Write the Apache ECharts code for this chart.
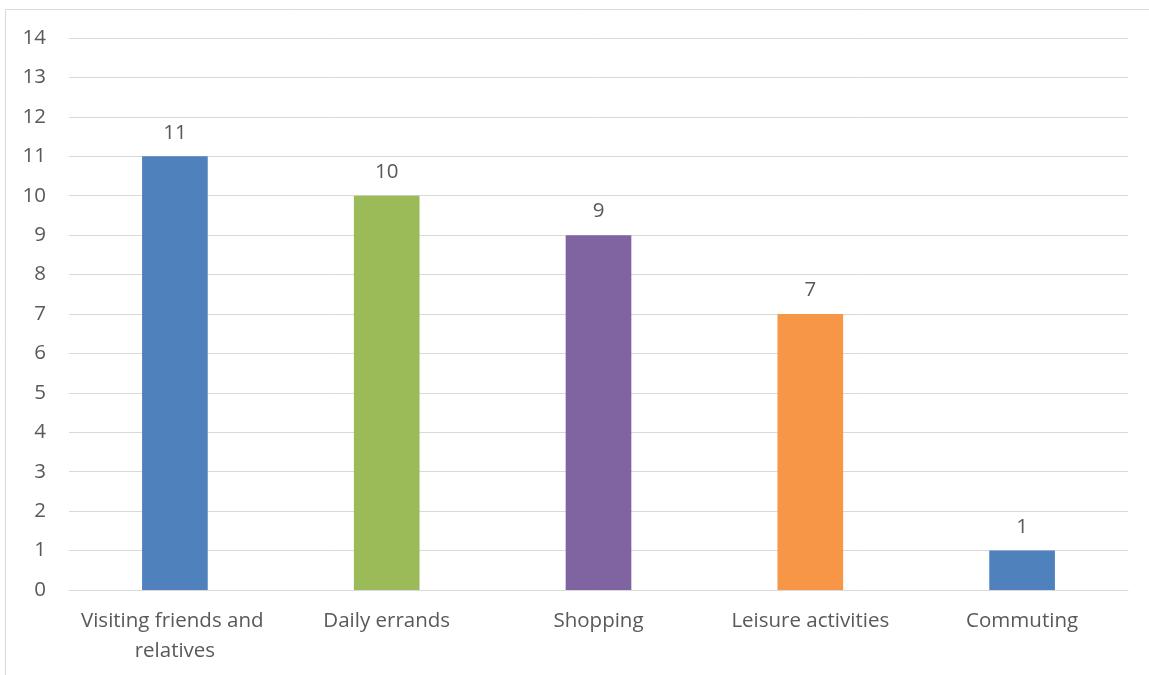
<!DOCTYPE html>
<html>
<head>
<meta charset="utf-8">
<script src="https://cdn.jsdelivr.net/npm/echarts@6/dist/echarts.min.js"></script>
<style>
  html, body { margin: 0; padding: 0; background: #fff; }
  #chart { width: 1149px; height: 675px; }
</style>
</head>
<body>
<div id="chart"></div>
<script>
// Trip purposes and their counts
const categories = ['Visiting friends and relatives', 'Daily errands', 'Shopping', 'Leisure activities', 'Commuting'];
const values = [11, 10, 9, 7, 1];
const barColors = ['#4F81BD', '#9BBB59', '#8064A2', '#F79646', '#4F81BD'];

const textColor = '#595959';
const fontFamily = '"Open Sans", Lato, sans-serif';

const chart = echarts.init(document.getElementById('chart'), null, { renderer: 'canvas' });
chart.setOption({
  animation: false,
  backgroundColor: '#ffffff',
  graphic: [{
    type: 'rect',
    shape: { x: 5.5, y: 9.5, width: 1200, height: 720 },
    style: { fill: 'none', stroke: '#d9d9d9', lineWidth: 1 },
    silent: true
  }],
  grid: { left: 69, right: 21, top: 38, bottom: 85, containLabel: false },
  xAxis: {
    type: 'category',
    data: categories,
    axisLine: { show: true, lineStyle: { color: '#d9d9d9', width: 1 } },
    axisTick: { show: false },
    axisLabel: {
      color: textColor, fontSize: 20.5, fontFamily: fontFamily,
      margin: 16, lineHeight: 30, width: 205, overflow: 'break', interval: 0
    }
  },
  yAxis: {
    type: 'value',
    min: 0, max: 14, interval: 1,
    axisLine: { show: false },
    axisTick: { show: false },
    splitLine: { lineStyle: { color: '#d9d9d9', width: 1 } },
    axisLabel: { color: textColor, fontSize: 20.5, fontFamily: fontFamily, margin: 23 }
  },
  series: [{
    type: 'bar',
    data: values.map((v, i) => ({ value: v, itemStyle: { color: barColors[i] } })),
    barWidth: '31%',
    label: {
      show: true, position: 'top', distance: 13,
      color: textColor, fontSize: 20.5, fontFamily: fontFamily
    }
  }]
});
</script>
</body>
</html>
